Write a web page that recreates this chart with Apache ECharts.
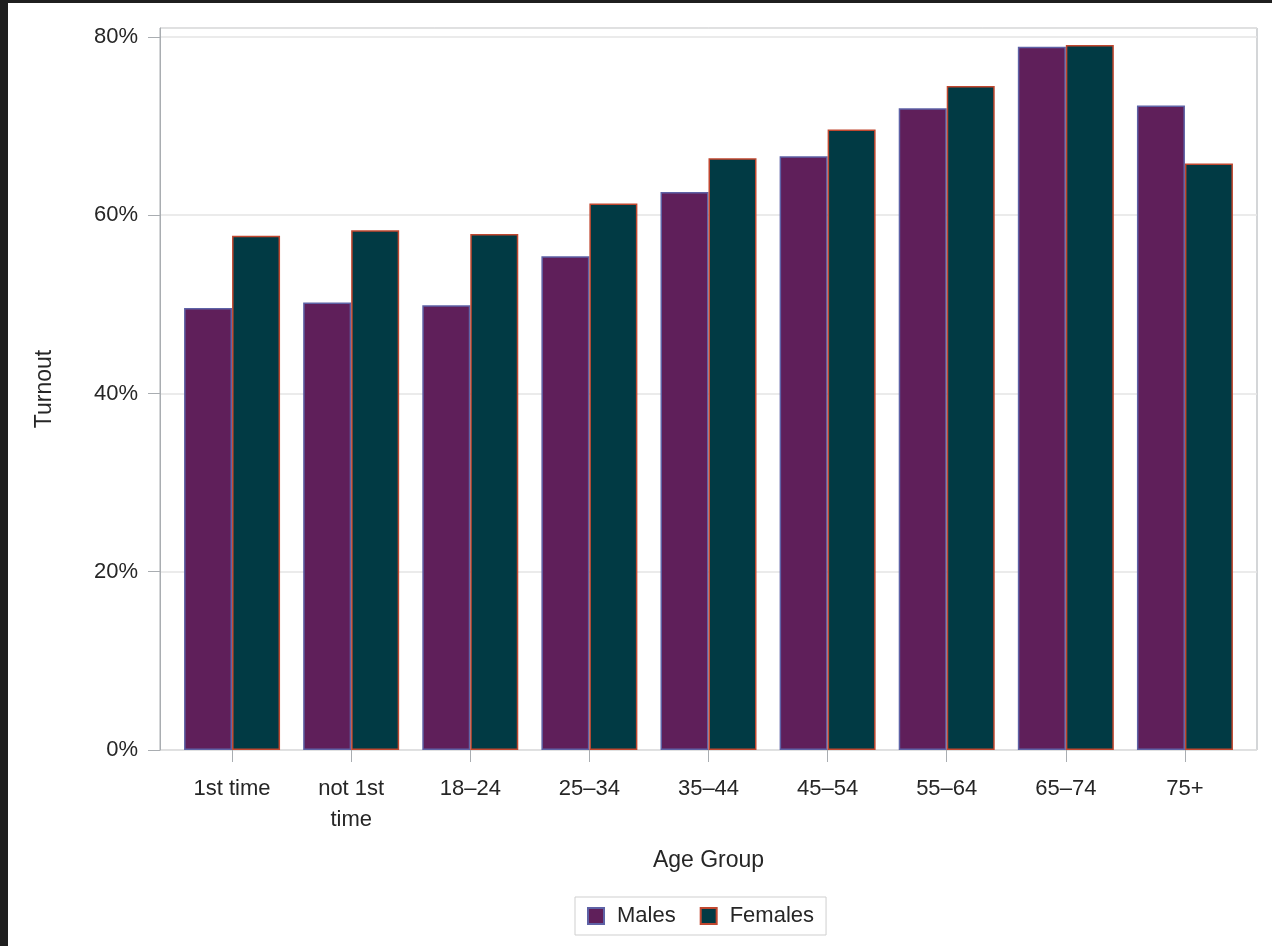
<!DOCTYPE html>
<html>
<head>
<meta charset="utf-8">
<script src="https://cdn.jsdelivr.net/npm/echarts@6/dist/echarts.min.js"></script>
<style>
html,body{margin:0;padding:0;background:#1f1f1f;width:1272px;height:946px;overflow:hidden;}
#chart{position:absolute;left:8px;top:3px;width:1264px;height:943px;background:#ffffff;}
</style>
</head>
<body>
<div id="chart"></div>
<script>
const categories = ['1st time', 'not 1st\ntime', '18–24', '25–34', '35–44', '45–54', '55–64', '65–74', '75+'];
const males   = [49.6, 50.2, 49.9, 55.4, 62.6, 66.6, 72.0, 78.9, 72.3];
const females = [57.7, 58.3, 57.9, 61.3, 66.4, 69.6, 74.5, 79.1, 65.8];
const yMin = 0, yMax = 81, yStep = 20;

const FONT = '"Liberation Sans", Arial, sans-serif';
const chart = echarts.init(document.getElementById('chart'), null, {renderer: 'canvas'});
chart.setOption({
  animation: false,
  textStyle: {fontFamily: FONT},
  grid: [
    {left: 152, right: 15, top: 25, bottom: 196, show: true, borderColor: '#a9adb1', borderWidth: 1, backgroundColor: 'transparent'},
    {left: 164.5, right: 27.5, top: 25, bottom: 196}
  ],
  xAxis: [
    {gridIndex: 0, type: 'category', data: categories, show: false},
    {gridIndex: 1, type: 'category', data: categories,
     name: 'Age Group', nameLocation: 'middle', nameGap: 99,
     nameTextStyle: {fontSize: 23, color: '#262626', fontFamily: FONT},
     axisLine: {show: false},
     axisTick: {show: true, alignWithLabel: true, length: 12, lineStyle: {color: '#a9adb1'}},
     axisLabel: {fontSize: 22, color: '#262626', margin: 23, lineHeight: 31, interval: 0, fontFamily: FONT},
     splitLine: {show: false}}
  ],
  yAxis: [
    {gridIndex: 0, type: 'value', min: yMin, max: yMax, interval: yStep,
     name: 'Turnout', nameLocation: 'middle', nameGap: 104, nameRotate: 90,
     nameTextStyle: {fontSize: 23, color: '#262626', fontFamily: FONT},
     axisLine: {show: true, lineStyle: {color: '#a9adb1'}},
     axisTick: {show: true, length: 12, lineStyle: {color: '#a9adb1'}},
     axisLabel: {fontSize: 22, color: '#262626', margin: 22, formatter: '{value}%', fontFamily: FONT,
       showMaxLabel: false},
     splitLine: {show: true, lineStyle: {color: '#e4e4e4', width: 1.5}}},
    {gridIndex: 1, type: 'value', min: yMin, max: yMax, interval: yStep, show: false, splitLine: {show: false}}
  ],
  legend: {
    left: 567, top: 894, itemWidth: 16, itemHeight: 16, itemGap: 24, icon: 'rect',
    borderColor: '#cfcfcf', borderWidth: 1, padding: [8, 12, 8, 12],
    textStyle: {fontSize: 22, color: '#262626', fontFamily: FONT, padding: [0, 0, 0, 8]},
    data: ['Males', 'Females']
  },
  series: [
    {name: 'Males', type: 'bar', xAxisIndex: 1, yAxisIndex: 1, data: males, barWidth: 48, barGap: '0%',
     itemStyle: {color: '#5f1f5a', borderColor: '#5e62a6', borderWidth: 1.5}},
    {name: 'Females', type: 'bar', xAxisIndex: 1, yAxisIndex: 1, data: females, barWidth: 48, barGap: '0%',
     itemStyle: {color: '#013a44', borderColor: '#c0472f', borderWidth: 1.5}}
  ]
});
</script>
</body>
</html>
